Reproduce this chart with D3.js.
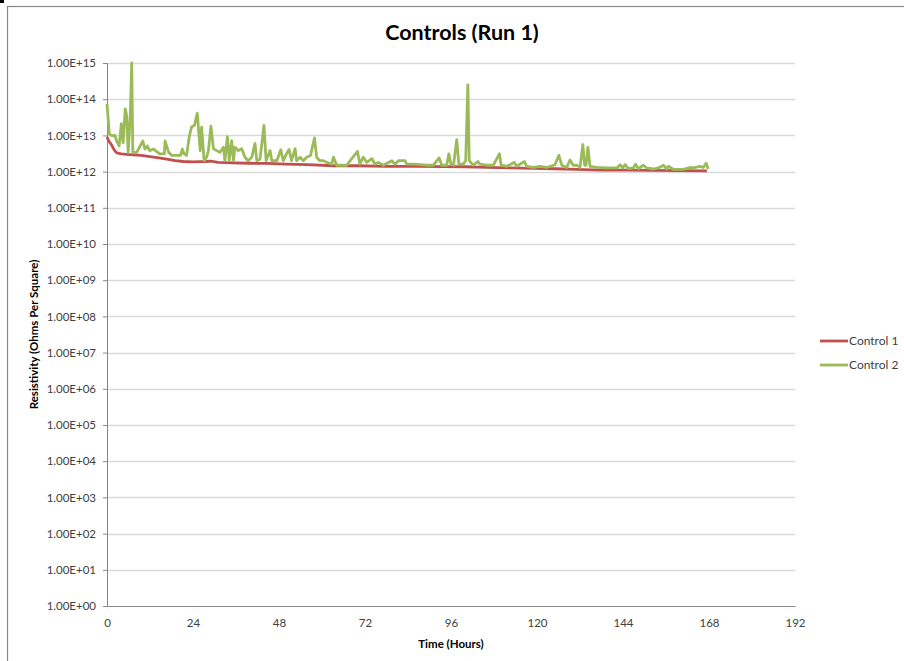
<!DOCTYPE html>
<html>
<head>
<meta charset="utf-8">
<script src="https://cdn.jsdelivr.net/npm/d3@7"></script>
<style>
  body { margin: 0; background: #fff; }
  text { font-family: Lato, "Open Sans", sans-serif; fill: #404040; }
</style>
</head>
<body>
<div id="container"></div>
<script>
const WIDTH = 904;
const HEIGHT = 661;
const MARGIN = { TOP: 63, BOTTOM: 55, LEFT: 107, RIGHT: 109 };

const width = WIDTH - MARGIN.LEFT - MARGIN.RIGHT;
const height = HEIGHT - MARGIN.TOP - MARGIN.BOTTOM;

const TITLE = 'Controls (Run 1)';
const X_LABEL = 'Time (Hours)';
const Y_LABEL = 'Resistivity (Ohms Per Square)';
const SERIES_NAMES = ['Control 1', 'Control 2'];
const COLORS = ['#c0504d', '#9bbb59'];
const X_TICKS = [0, 24, 48, 72, 96, 120, 144, 168, 192];
const Y_TICKS = d3.range(0, 16).map(p => Math.pow(10, p));

// Control 1 (hours, ohms per square)
const control1Hours = [0, 0.5, 1.3, 2.0, 2.7, 4.0, 5.5, 7.3, 9.5, 12, 14.5, 16.7, 19, 21.3, 24, 27.8, 29, 31, 35, 40, 44.6, 50, 56, 63, 70, 78, 87, 94, 100, 106, 112, 118.9, 125, 131, 137.6, 145, 152, 160, 167.4];
const control1Values = [9.1e12, 7.0e12, 5.4e12, 4.0e12, 3.3e12, 3.1e12, 3.0e12, 2.9e12, 2.8e12, 2.6e12, 2.4e12, 2.2e12, 2.0e12, 1.9e12, 1.85e12, 1.9e12, 1.95e12, 1.8e12, 1.75e12, 1.7e12, 1.68e12, 1.6e12, 1.55e12, 1.45e12, 1.45e12, 1.4e12, 1.4e12, 1.38e12, 1.36e12, 1.3e12, 1.27e12, 1.23e12, 1.2e12, 1.15e12, 1.1e12, 1.1e12, 1.08e12, 1.06e12, 1.05e12];

// Control 2 (hours, ohms per square)
const control2Hours = [0, 0.65, 1.3, 2.2, 2.7, 3.4, 4.0, 4.5, 5.1, 5.5, 5.9, 6.5, 6.9, 7.2, 8.3, 10, 10.6, 11.2, 11.9, 13, 14.7, 16.0, 16.2, 17.2, 18.1, 20.5, 21, 21.5, 22.2, 23, 23.6, 24.4, 25.2, 26.0, 26.4, 27.1, 27.8, 28.3, 29.0, 29.7, 30.6, 31.5, 32.5, 32.9, 33.6, 34.1, 34.8, 35.3, 35.7, 36.7, 37.6, 38.5, 39.4, 40.4, 41.3, 41.8, 42.7, 43.8, 44.4, 45.5, 46.0, 47.4, 48.5, 49.2, 50.1, 50.8, 51.5, 52.5, 52.9, 53.9, 54.8, 55.7, 56.8, 57.9, 58.5, 59.4, 60.4, 61.3, 62.7, 63.2, 64.1, 66.9, 69.9, 70.6, 71.5, 72.5, 73.9, 74.8, 75.7, 77.1, 79.5, 80.4, 81.3, 83.2, 83.6, 85.5, 87.4, 89.2, 91.1, 92.7, 93.4, 94.8, 95.4, 96.0, 96.7, 97.6, 98.2, 99.4, 100.1, 100.7, 101.1, 102.2, 103.5, 104.1, 106.0, 107.8, 109.5, 110.0, 111.6, 113.7, 114.3, 116.5, 117.1, 119.0, 120.8, 122.7, 125.0, 126.1, 126.9, 128.3, 129.2, 130.1, 131.1, 132.0, 132.8, 133.3, 133.7, 134.2, 134.8, 136.7, 139.5, 142.3, 143.2, 143.9, 144.6, 145.5, 146.9, 147.5, 148.3, 149.7, 150.6, 152.5, 153.9, 155.3, 156.2, 156.7, 158.1, 160.8, 162.7, 163.6, 165.5, 166.4, 167.2, 167.8];
const control2Values = [7.4e13, 1.1e13, 9.8e12, 1.0e13, 7.0e12, 5.1e12, 2.1e13, 6.3e12, 5.4e13, 3.5e13, 3.4e12, 3.5e13, 1.0e15, 3.4e12, 3.4e12, 7.0e12, 4.2e12, 5.1e12, 3.8e12, 4.2e12, 3.1e12, 3.1e12, 7.0e12, 3.4e12, 2.8e12, 2.8e12, 4.2e12, 3.1e12, 2.8e12, 9.8e12, 1.7e13, 1.9e13, 4.1e13, 3.8e12, 1.7e13, 2.0e12, 2.5e12, 3.8e12, 1.8e13, 4.3e12, 3.8e12, 3.4e12, 4.7e12, 2.0e12, 9.3e12, 2.0e12, 7.2e12, 2.0e12, 4.7e12, 3.8e12, 4.3e12, 2.5e12, 2.0e12, 2.5e12, 6.0e12, 2.0e12, 2.2e12, 1.9e13, 2.0e12, 3.8e12, 2.0e12, 2.0e12, 4.0e12, 2.0e12, 3.1e12, 4.1e12, 2.0e12, 4.3e12, 2.0e12, 2.5e12, 2.0e12, 2.5e12, 2.8e12, 8.5e12, 2.5e12, 2.0e12, 2.0e12, 1.8e12, 1.6e12, 2.5e12, 1.5e12, 1.5e12, 3.6e12, 1.6e12, 2.5e12, 1.8e12, 2.3e12, 1.6e12, 1.8e12, 1.5e12, 2.0e12, 1.6e12, 2.0e12, 2.0e12, 1.6e12, 1.6e12, 1.55e12, 1.5e12, 1.5e12, 2.4e12, 1.5e12, 1.5e12, 3.1e12, 1.6e12, 1.5e12, 7.6e12, 1.6e12, 1.6e12, 2.0e12, 2.5e14, 2.0e12, 1.5e12, 1.9e12, 1.6e12, 1.5e12, 1.5e12, 3.1e12, 1.5e12, 1.4e12, 1.8e12, 1.4e12, 1.9e12, 1.4e12, 1.3e12, 1.4e12, 1.3e12, 1.55e12, 2.8e12, 1.5e12, 1.3e12, 2.1e12, 1.5e12, 1.5e12, 1.3e12, 5.6e12, 1.5e12, 1.5e12, 4.7e12, 1.4e12, 1.3e12, 1.26e12, 1.26e12, 1.55e12, 1.26e12, 1.55e12, 1.2e12, 1.26e12, 1.6e12, 1.2e12, 1.5e12, 1.26e12, 1.18e12, 1.26e12, 1.5e12, 1.18e12, 1.4e12, 1.15e12, 1.15e12, 1.3e12, 1.26e12, 1.4e12, 1.3e12, 1.7e12, 1.18e12];

const seriesData = [
  control1Hours.map((t, i) => ({ t, v: control1Values[i] })),
  control2Hours.map((t, i) => ({ t, v: control2Values[i] }))
];

const svg = d3.select('#container')
  .append('svg')
    .attr('width', WIDTH)
    .attr('height', HEIGHT);

// outer chart border and corner mark
svg.append('rect')
   .attr('x', 7.5).attr('y', 6.5)
   .attr('width', 1000).attr('height', 1000)
   .attr('fill', 'none').attr('stroke', '#888').attr('stroke-width', 1.2);
svg.append('rect')
   .attr('x', 0).attr('y', 0).attr('width', 4).attr('height', 3)
   .attr('fill', '#000');

const container = svg.append('g')
  .attr('transform', `translate(${MARGIN.LEFT}, ${MARGIN.TOP})`);

const x = d3.scaleLinear().domain([0, 192]).range([0, width]);
const y = d3.scaleLog().domain([1, 1e15]).range([height, 0]);

// horizontal gridlines
container.selectAll('.grid')
  .data(Y_TICKS.slice(1))
  .enter()
  .append('line')
    .attr('class', 'grid')
    .attr('x1', 0).attr('x2', width)
    .attr('y1', d => Math.round(y(d)) + 0.5)
    .attr('y2', d => Math.round(y(d)) + 0.5)
    .attr('stroke', '#d9d9d9')
    .attr('stroke-width', 1.3);

const fmt = d => {
  const p = Math.round(Math.log10(d));
  return '1.00E+' + (p < 10 ? '0' + p : p);
};

const yAxis = container.append('g')
  .call(d3.axisLeft(y).tickValues(Y_TICKS).tickFormat(fmt).tickSize(4).tickPadding(7));
yAxis.select('.domain').attr('stroke', '#868686');
yAxis.selectAll('.tick line').attr('stroke', '#868686');
yAxis.selectAll('text')
  .style('font-family', 'Lato, "Open Sans", sans-serif')
  .style('font-size', '11.5px').attr('fill', '#404040');

const xAxis = container.append('g')
  .attr('transform', `translate(0, ${height})`)
  .call(d3.axisBottom(x).tickValues(X_TICKS).tickSize(0).tickPadding(13));
xAxis.select('.domain').attr('stroke', '#868686');
xAxis.selectAll('text')
  .style('font-family', 'Lato, "Open Sans", sans-serif')
  .style('font-size', '11.5px').attr('fill', '#404040');

const line = d3.line()
  .x(d => x(d.t))
  .y(d => y(d.v));

container.selectAll('.series')
  .data(seriesData)
  .enter()
  .append('path')
    .attr('class', 'series')
    .attr('d', line)
    .attr('fill', 'none')
    .attr('stroke', (d, i) => COLORS[i])
    .attr('stroke-width', 2.8)
    .attr('stroke-linejoin', 'round');

// titles
svg.append('text')
   .attr('x', 462).attr('y', 40)
   .attr('text-anchor', 'middle')
   .style('font-size', '21.5px').style('font-weight', 'bold')
   .style('fill', '#000')
   .text(TITLE);

svg.append('text')
   .attr('x', MARGIN.LEFT + width / 2).attr('y', 648)
   .attr('text-anchor', 'middle')
   .style('font-size', '11.5px').style('font-weight', 'bold')
   .style('fill', '#000')
   .text(X_LABEL);

svg.append('text')
   .attr('transform', `translate(38, ${MARGIN.TOP + height / 2}) rotate(-90)`)
   .attr('text-anchor', 'middle')
   .style('font-size', '11.5px').style('font-weight', 'bold')
   .style('fill', '#000')
   .text(Y_LABEL);

// legend
const legend = svg.selectAll('.legend')
  .data(SERIES_NAMES)
  .enter()
  .append('g')
    .attr('class', 'legend')
    .attr('transform', (d, i) => `translate(820, ${341 + i * 24})`);
legend.append('line')
  .attr('x1', 0).attr('x2', 28)
  .attr('stroke', (d, i) => COLORS[i])
  .attr('stroke-width', 2.8);
legend.append('text')
  .attr('x', 29).attr('dy', '0.35em')
  .style('font-size', '12px')
  .text(d => d);
</script>
</body>
</html>
